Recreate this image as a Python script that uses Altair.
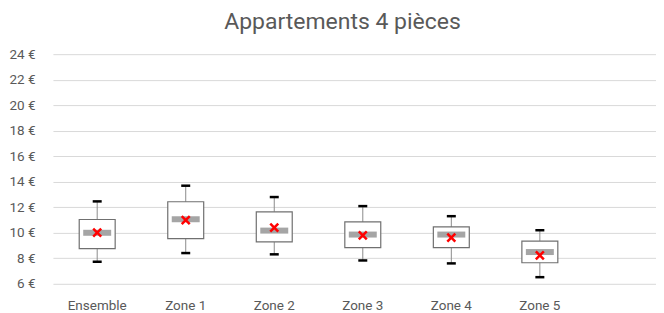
import altair as alt
import pandas as pd

categories = ["Ensemble", "Zone 1", "Zone 2", "Zone 3", "Zone 4", "Zone 5"]
mins = [7.73, 8.41, 8.31, 7.83, 7.60, 6.52]
q1s = [8.76, 9.54, 9.28, 8.83, 8.83, 7.65]
medians = [10.0, 11.06, 10.17, 9.86, 9.86, 8.49]
q3s = [11.04, 12.43, 11.64, 10.85, 10.46, 9.35]
maxs = [12.46, 13.69, 12.80, 12.09, 11.30, 10.20]
means = [10.02, 11.0, 10.41, 9.80, 9.62, 8.23]
y_ticks = [6, 8, 10, 12, 14, 16, 18, 20, 22, 24]

df = pd.DataFrame({
    "cat": categories, "min": mins, "q1": q1s, "median": medians,
    "q3": q3s, "max": maxs, "mean": means,
})

FONT = "Roboto"
GREY = "#595959"

x = alt.X("cat:N", sort=categories, title=None,
          scale=alt.Scale(paddingInner=0, paddingOuter=0.406, align=0, round=False),
          axis=alt.Axis(labelAngle=0, labelFontSize=13.5, labelColor=GREY, labelFont=FONT,
                        ticks=False, domain=False, labelPadding=14.5, grid=False))
yscale = alt.Scale(domain=[6, 24], nice=False, zero=False)
yaxis = alt.Axis(values=y_ticks, labelExpr="datum.value + ' €'", labelFontSize=13.5,
                 labelColor=GREY, labelFont=FONT, ticks=False, domain=False,
                 labelOverlap=False, labelPadding=18, gridColor="#d9d9d9", gridWidth=1,
                 title=None)

base = alt.Chart(df).encode(x=x)

def Y(field):
    return alt.Y(field, scale=yscale, axis=yaxis)

whisker = base.mark_rule(color="#8c8c8c", strokeWidth=1).encode(y=Y("min:Q"), y2="max:Q")
box = base.mark_bar(size=36, fill="white", stroke="#707070", strokeWidth=1.2).encode(
    y=Y("q1:Q"), y2="q3:Q")
med = base.mark_tick(color="#a5a5a5", thickness=6, size=28, opacity=1).encode(y=Y("median:Q"))
cap_lo = base.mark_tick(color="black", thickness=2.5, size=9, opacity=1).encode(y=Y("min:Q"))
cap_hi = base.mark_tick(color="black", thickness=2.5, size=9, opacity=1).encode(y=Y("max:Q"))
mean_pt = base.mark_point(shape="M-1,-1L1,1M1,-1L-1,1", color="#ff0000", strokeWidth=2.5,
                          size=64, filled=False, opacity=1).encode(y=Y("mean:Q"))

chart = alt.layer(whisker, box, med, cap_lo, cap_hi, mean_pt).properties(
    width=604, height=230,
    title=alt.TitleParams("Appartements 4 pièces", fontSize=23, font=FONT, color=GREY,
                          fontWeight="normal", anchor="middle", dx=-12, offset=13),
    padding={"left": 0, "top": 3, "right": 0, "bottom": 0},
).configure_view(stroke=None).configure_axisY(labelOverlap=False)

chart.save("out.html", embed_options={"renderer": "svg", "actions": False})
